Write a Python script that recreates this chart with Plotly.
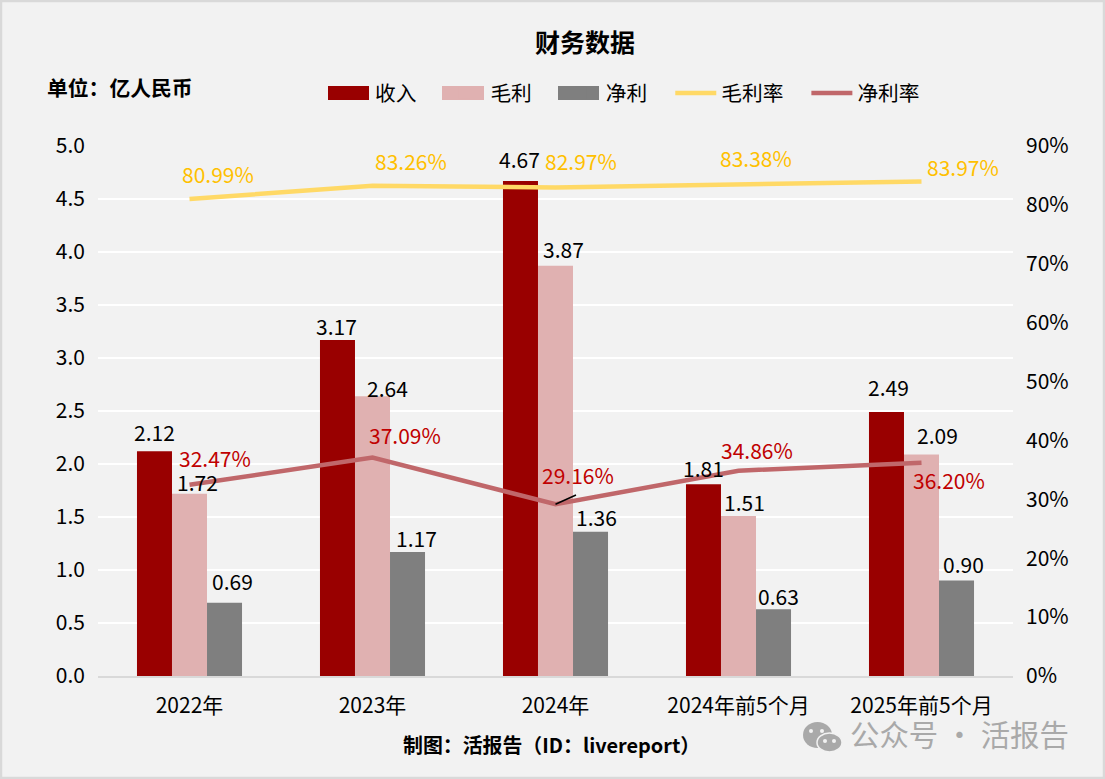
import plotly.graph_objects as go

categories = ["2022年", "2023年", "2024年", "2024年前5个月", "2025年前5个月"]
revenue = [2.12, 3.17, 4.67, 1.81, 2.49]
gross_profit = [1.72, 2.64, 3.87, 1.51, 2.09]
net_profit = [0.69, 1.17, 1.36, 0.63, 0.90]
gross_margin = [80.99, 83.26, 82.97, 83.38, 83.97]
net_margin = [32.47, 37.09, 29.16, 34.86, 36.20]

W, H = 1105, 779
L, R, T, B = 98, 1013, 146, 676
FONT = "Noto Sans CJK SC"
PAD = "\u00a0" * 3 + "\u2009"


def px(x):
    return (x - L) / (R - L)


def py(y):
    return (B - y) / (B - T)


fig = go.Figure()
for name, vals, color in [("收入", revenue, "#990000"), ("毛利", gross_profit, "#E0B1B1"), ("净利", net_profit, "#7F7F7F")]:
    fig.add_bar(x=categories, y=vals, name=name + PAD, marker=dict(color=color, line=dict(width=0)), yaxis="y")
fig.add_scatter(x=categories, y=gross_margin, name="毛利率" + PAD, mode="lines",
                line=dict(color="#FFD966", width=4.5), yaxis="y2")
fig.add_scatter(x=categories, y=net_margin, name="净利率", mode="lines",
                line=dict(color="#C0676A", width=4.5), yaxis="y2")

ann = []
# pixel offsets of the value labels from each category centre / bar top
bar_label_offsets = [
    (revenue, [(-35.5, 17), (-36.5, 12), (-36.5, 20), (-35.5, 14), (-33.5, 23)]),
    (gross_profit, [(7.5, 10), (14.5, 6), (7.5, 15), (5.5, 12), (15.5, 17.5)]),
    (net_profit, [(42.5, 20), (43.5, 12), (40.5, 13), (39.5, 11), (41.5, 14.6)]),
]
for vals, offs in bar_label_offsets:
    for c, v, o in zip(categories, vals, offs):
        ann.append(dict(x=c, y=v, yref="y", xref="x", text=f"{v:.2f}", showarrow=False, xshift=o[0], yshift=o[1] + 2,
                        font=dict(size=21, color="#000000", family=FONT)))

gross_off = [(28, -23), (38, -23), (25, -24), (17, -25), (41, -13)]
net_off = [(25, -25), (32, -21), (22, -27), (18, -19), (27, 19)]
for c, v, o in zip(categories, gross_margin, gross_off):
    ann.append(dict(x=c, y=v, yref="y2", xref="x", text=f"{v:.2f}%", showarrow=False, xshift=o[0], yshift=2 - o[1],
                    font=dict(size=21, color="#FFC000", family=FONT)))
for c, v, o in zip(categories, net_margin, net_off):
    ann.append(dict(x=c, y=v, yref="y2", xref="x", text=f"{v:.2f}%", showarrow=False, xshift=o[0], yshift=2 - o[1],
                    font=dict(size=21, color="#C00000", family=FONT)))
# leader line of the 2024 net-margin label
ann.append(dict(x=categories[2], y=net_margin[2], yref="y2", xref="x", text=" ", showarrow=True, arrowhead=0,
                arrowwidth=1.5, arrowcolor="#000000", ax=22, ay=-10, standoff=0, startstandoff=0,
                font=dict(size=1)))
ann += [
    dict(xref="paper", yref="paper", x=px(45), y=py(87), xanchor="left", yanchor="middle", showarrow=False,
         text="<b>单位：亿人民币</b>", font=dict(size=20.8, color="#000000", family=FONT)),
    dict(xref="paper", yref="paper", x=px(551), y=py(744), xanchor="center", yanchor="middle", showarrow=False,
         text="<b>制图：活报告（ID：livereport）</b>", font=dict(size=19.9, color="#000000", family=FONT)),
    dict(xref="paper", yref="paper", x=px(848), y=py(733), xanchor="left", yanchor="middle", showarrow=False,
         text="公众号 · 活报告", font=dict(size=29.4, color="#A9A9A9", family=FONT)),
]


def circle(x0, y0, x1, y1, color, line=None):
    return dict(type="circle", xref="paper", yref="paper", x0=px(x0), x1=px(x1), y0=py(y0), y1=py(y1),
                fillcolor=color, line=dict(width=1.5 if line else 0, color=line or color))


def swatch(x0, x1, color):
    return dict(type="rect", xref="paper", yref="paper", x0=px(x0), x1=px(x1), y0=py(86), y1=py(100),
                fillcolor=color, line=dict(width=0))


shapes = [
    dict(type="rect", xref="paper", yref="paper", x0=px(1), x1=px(W - 1), y0=py(1), y1=py(H - 1),
         line=dict(color="#D9D9D9", width=2.5), fillcolor="rgba(0,0,0,0)"),
    swatch(328, 369, "#990000"), swatch(442, 484, "#E0B1B1"), swatch(558, 599, "#7F7F7F"),
    circle(803, 722, 832, 748, "#A9A9A9"),
    circle(817, 733, 842, 752, "#A9A9A9", "#F2F2F2"),
    circle(809, 729, 813, 733, "#F2F2F2"),
    circle(820, 729, 824, 733, "#F2F2F2"),
    circle(823, 739, 827, 743, "#F2F2F2"),
    circle(832, 739, 836, 743, "#F2F2F2"),
]

fig.update_layout(
    width=W, height=H, autosize=False,
    margin=dict(l=L, r=W - R, t=T, b=H - B, pad=0),
    paper_bgcolor="#F2F2F2", plot_bgcolor="#F2F2F2",
    font=dict(family=FONT, color="#000000", size=21),
    barmode="group", bargap=0.426, bargroupgap=0,
    title=dict(text="<b>财务数据</b>", x=585 / W, xanchor="center", xref="container", y=1 - 43 / H, yanchor="middle",
               font=dict(size=25, color="#000000", family=FONT)),
    showlegend=True,
    legend=dict(orientation="h", x=px(324), xanchor="left", y=py(93), yanchor="middle", itemwidth=41,
                font=dict(size=20.7, color="#000000", family=FONT), bgcolor="rgba(0,0,0,0)", traceorder="normal"),
    xaxis=dict(type="category", showgrid=False, showline=True, linecolor="#D9D9D9", linewidth=2, ticks="",
               tickfont=dict(size=21), ticklabelstandoff=10, zeroline=False),
    yaxis=dict(range=[0, 5], dtick=0.5, tickformat=".1f", showgrid=True, gridcolor="#FFFFFF", gridwidth=2,
               zeroline=False, showline=False, ticks="", tickfont=dict(size=21), ticklabelstandoff=12),
    yaxis2=dict(range=[0, 90], dtick=10, ticksuffix="%", overlaying="y", side="right", showgrid=False,
                zeroline=False, showline=False, ticks="", tickfont=dict(size=21), ticklabelstandoff=12),
    annotations=ann, shapes=shapes,
)
fig.write_html("out.html", config={"displayModeBar": False},
               post_script="document.body.style.margin='0';document.body.style.overflow='hidden';")
